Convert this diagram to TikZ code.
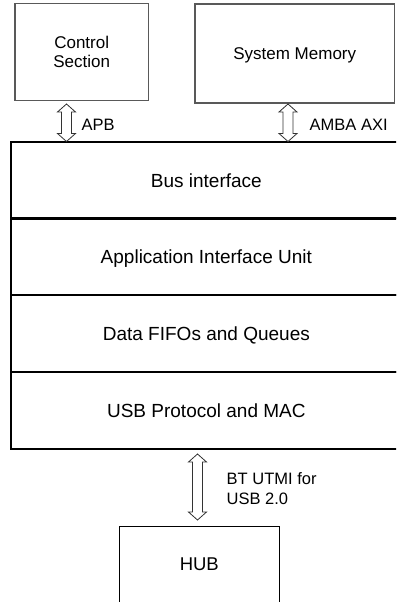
\documentclass[tikz,border=0pt]{standalone}
\usepackage{fontspec}
\setmainfont{Liberation Sans}
\usetikzlibrary{calc}
\newcommand\udarrow[2]{%
  \draw[arr] (#1) -- ($(#1)+(9,8)$) -- ($(#1)+(5,8)$) -- ($(#2)+(5,-8)$) -- ($(#2)+(9,-8)$)
    -- (#2) -- ($(#2)+(-9,-8)$) -- ($(#2)+(-5,-8)$) -- ($(#1)+(-5,8)$) -- ($(#1)+(-9,8)$) -- cycle;}
\tikzset{
  topbox/.style={draw=black!65, line width=1.3pt, inner sep=0pt, align=center,
    font=\fontsize{17}{18.5}\selectfont},
  layer/.style={draw=black, line width=2pt, minimum width=391.3pt, minimum height=76.75pt,
    inner sep=0pt, text height=13.6pt, text depth=0pt, font=\fontsize{19}{22}\selectfont},
  hubbox/.style={draw=black, line width=1.5pt, minimum width=160pt, minimum height=80pt,
    inner sep=0pt, text height=13.3pt, text depth=5.4pt, font=\fontsize{18.5}{22}\selectfont},
  arr/.style={draw=black!80, line width=0.8pt, fill=white, line join=miter},
  lbl/.style={inner sep=0pt, anchor=west, align=left, font=\fontsize{16.5}{20}\selectfont}
}
\begin{document}
\begin{tikzpicture}[x=1pt, y=-1pt]
  \useasboundingbox (0,0) rectangle (396,602);
  \clip (0,0) rectangle (396,602);
  \fill[white] (0,0) rectangle (396,602);

  % top boxes
  \node[topbox, minimum width=133.3pt, minimum height=97.4pt]
    (ctrl) at (81.7,52) {Control\\Section};
  \node[topbox, minimum width=199.5pt, minimum height=99pt, text height=12.2pt, text depth=0pt]
    (mem) at (294.75,53.5) {System Memory};

  % layered block
  \node[layer] (bus) at (206.35,180.35) {Bus interface};
  \node[layer] (aiu) at (206.35,256.85) {Application Interface Unit};
  \node[layer] (fifo) at (206.35,333.6) {Data FIFOs and Queues};
  \node[layer] (mac) at (206.35,410.35) {USB Protocol and MAC};

  % hub
  \node[hubbox] (hub) at (199.3,566.7) {HUB};

  % connector end points
  \coordinate (apbA) at (66.5,104);
  \coordinate (apbB) at (66.5,141.5);
  \coordinate (axiA) at (288,104);
  \coordinate (axiB) at (288,141.5);
  \coordinate (utmiA) at (197.5,454);
  \coordinate (utmiB) at (197.5,520);

  \udarrow{apbA}{apbB}
  \udarrow{axiA}{axiB}
  \udarrow{utmiA}{utmiB}

  % labels
  \node[lbl] (apbL) at (81.5,125) {APB};
  \node[lbl] (axiL) at (309.5,125) {AMBA AXI};
  \node[lbl] (utmiL) at (226.5,489) {BT UTMI for\\USB 2.0};
\end{tikzpicture}
\end{document}
